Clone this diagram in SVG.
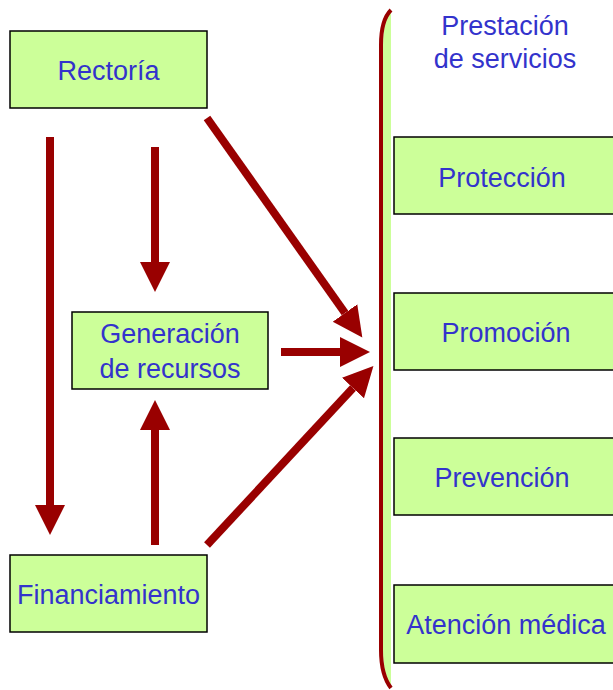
<svg xmlns="http://www.w3.org/2000/svg" width="613" height="690" viewBox="0 0 613 690">
<style>
.box{fill:#ccff99;stroke:#000;stroke-width:1.5}
.t{font-family:"Liberation Sans",Arial,sans-serif;font-size:27px;fill:#3333cc;text-anchor:middle}
.a{stroke:#990000;stroke-width:8;fill:none}
</style>
<defs>
<marker id="h" markerUnits="userSpaceOnUse" markerWidth="32" markerHeight="32" refX="0" refY="15" orient="auto" viewBox="0 0 32 30">
<path d="M0,0 L30,15 L0,30 Z" fill="#990000"/>
</marker>
</defs>
<rect width="613" height="690" fill="#fff"/>
<g id="bracket">
<path d="M391,10 Q383,20 383,45 L383,650 Q383,675 391,688 L391,10 Z" fill="#ccff99"/>
<path d="M391,10 Q381,20 381,45 L381,650 Q381,675 391,688" fill="none" stroke="#990000" stroke-width="4"/>
</g>
<g id="rectoria"><rect class="box" x="10" y="31" width="197" height="77"/><text class="t" x="108.5" y="80">Rectoría</text></g>
<g id="generacion"><rect class="box" x="72" y="312" width="196" height="77"/><text class="t" x="170" y="343">Generación</text><text class="t" x="170" y="378">de recursos</text></g>
<g id="financiamiento"><rect class="box" x="10" y="555" width="197" height="77"/><text class="t" x="108.5" y="604">Financiamiento</text></g>
<g id="prestacion"><text class="t" x="505" y="35">Prestación</text><text class="t" x="505" y="68">de servicios</text></g>
<g id="proteccion"><rect class="box" x="394" y="137" width="230" height="77"/><text class="t" x="502" y="187">Protección</text></g>
<g id="promocion"><rect class="box" x="394" y="293" width="230" height="77"/><text class="t" x="506" y="342">Promoción</text></g>
<g id="prevencion"><rect class="box" x="394" y="438" width="230" height="77"/><text class="t" x="502" y="487">Prevención</text></g>
<g id="atencion"><rect class="box" x="394" y="585" width="230" height="78"/><text class="t" x="506" y="634">Atención médica</text></g>
<g id="connectors">
<line class="a" x1="50" y1="137" x2="50" y2="505" marker-end="url(#h)"/>
<line class="a" x1="155" y1="147" x2="155" y2="262" marker-end="url(#h)"/>
<line class="a" x1="155" y1="545" x2="155" y2="430" marker-end="url(#h)"/>
<line class="a" x1="207" y1="118" x2="345" y2="313" marker-end="url(#h)"/>
<line class="a" x1="281" y1="352" x2="340" y2="352" marker-end="url(#h)"/>
<line class="a" x1="207" y1="545" x2="353" y2="388" marker-end="url(#h)"/>
</g>
</svg>
